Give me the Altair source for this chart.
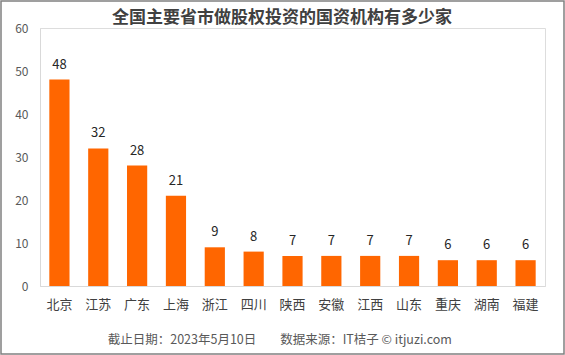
import altair as alt
import pandas as pd

provinces = ["北京", "江苏", "广东", "上海", "浙江", "四川", "陕西", "安徽", "江西", "山东", "重庆", "湖南", "福建"]
counts = [48, 32, 28, 21, 9, 8, 7, 7, 7, 7, 6, 6, 6]
title_text = "全国主要省市做股权投资的国资机构有多少家"
footer_date = "截止日期：2023年5月10日"
footer_source = "数据来源：IT桔子 © itjuzi.com"

df = pd.DataFrame({"省市": provinces, "数量": counts})
FONT = "Noto Sans CJK SC"

x = alt.X("省市:N", sort=provinces, title=None,
          scale=alt.Scale(paddingInner=0.48, paddingOuter=0.24),
          axis=alt.Axis(labelAngle=0, ticks=False, labelPadding=12, labelFontSize=13,
                        labelColor="#404040", domainColor="#d9d9d9", labelFont=FONT))
y = alt.Y("数量:Q", title=None,
          scale=alt.Scale(domain=[0, 60]),
          axis=alt.Axis(values=[0, 10, 20, 30, 40, 50, 60], grid=False, ticks=False,
                        labelPadding=12, labelFontSize=12, labelColor="#595959",
                        domainColor="#d9d9d9", labelFont=FONT))

bars = alt.Chart(df).mark_bar(color="#FF6600").encode(x=x, y=y)
labels = alt.Chart(df).mark_text(baseline="bottom", dy=-8, fontSize=13, color="#262626", font=FONT).encode(
    x=alt.X("省市:N", sort=provinces), y="数量:Q", text="数量:Q")

def text_at(t, xv, yv, size, color, weight="normal"):
    return alt.Chart(pd.DataFrame({"t": [t]})).mark_text(
        fontSize=size, color=color, font=FONT, align="center", baseline="middle", fontWeight=weight).encode(
        x=alt.value(xv), y=alt.value(yv), text="t:N")

title = text_at(title_text, 242, -10, 17, "#404040", "bold")
f1 = text_at(footer_date, 142, 312, 12.5, "#595959")
f2 = text_at(footer_source, 326, 312, 12.5, "#595959")

border = alt.Chart(pd.DataFrame({"a": [0]})).mark_rect(filled=False, stroke="#808080", strokeWidth=1.5).encode(
    x=alt.value(-39), x2=alt.value(524), y=alt.value(-27), y2=alt.value(326))

chart = alt.layer(bars, labels, title, f1, f2, border).properties(
    width=505, height=258,
    autosize=alt.AutoSizeParams(type="none"),
    padding={"left": 40, "top": 28, "right": 20, "bottom": 69},
).configure_view(stroke=None).configure(background="white")

chart.save("out.html", embed_options={"renderer": "svg", "actions": False})
